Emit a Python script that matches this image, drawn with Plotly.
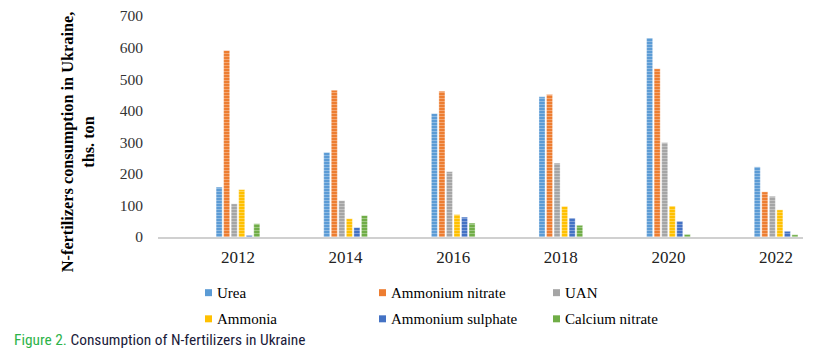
import plotly.graph_objects as go

years = ["2012", "2014", "2016", "2018", "2020", "2022"]
series_names = ["Urea", "Ammonium nitrate", "UAN", "Ammonia", "Ammonium sulphate", "Calcium nitrate"]
urea = [158, 268, 391, 444, 630, 222]
ammonium_nitrate = [591, 465, 462, 451, 533, 143]
uan = [105, 115, 207, 234, 299, 129]
ammonia = [150, 58, 71, 97, 98, 86]
ammonium_sulphate = [5, 30, 63, 60, 50, 18]
calcium_nitrate = [42, 68, 44, 37, 8, 7]
y_ticks = [0, 100, 200, 300, 400, 500, 600, 700]

values = [urea, ammonium_nitrate, uan, ammonia, ammonium_sulphate, calcium_nitrate]
colors = ["#5B9BD5", "#ED7D31", "#A5A5A5", "#FFC000", "#4472C4", "#70AD47"]

# page has an 8px body margin; figure is sized to fit the 814x358 window
OFF = 8
W, H = 814 - OFF, 358 - OFF
L, R, T, B = 158 - OFF, 11, 16 - OFF, 120.5
pw, ph = W - L - R, H - T - B

def px(x):
    return (x - OFF - L) / pw

def py(y):
    return (H - B - (y - OFF)) / ph

fig = go.Figure()
for name, vals, col in zip(series_names, values, colors):
    fig.add_trace(go.Bar(
        x=years, y=vals, name=name,
        marker=dict(color=col,
                    line=dict(color="rgba(255,255,255,0.55)", width=0.6),
                    pattern=dict(shape="-", fillmode="overlay", fgcolor="white",
                                 fgopacity=0.35, size=3, solidity=0.3)),
        showlegend=False,
    ))

serif = "Liberation Serif, Times New Roman, serif"

# manual legend
cols_x = [205, 379, 553]
rows_y = [293.3, 319.5]
ann = []
shapes = []
for i, (name, col) in enumerate(zip(series_names, colors)):
    r, c = divmod(i, 3)
    mx, my = cols_x[c], rows_y[r]
    shapes.append(dict(type="rect", xref="paper", yref="paper",
                       x0=px(mx), x1=px(mx + 7), y0=py(my - 3.5), y1=py(my + 3.5),
                       fillcolor=col, line=dict(width=0)))
    ann.append(dict(text=name, xref="paper", yref="paper", x=px(mx + 10), y=py(my),
                    xanchor="left", yanchor="middle", showarrow=False,
                    font=dict(family=serif, size=15, color="#000000")))

ann.append(dict(text="<b>N-fertilizers consumption in Ukraine,<br>ths. ton</b>",
                xref="paper", yref="paper", x=px(77.5), y=py(143), textangle=-90,
                xanchor="center", yanchor="middle", showarrow=False,
                font=dict(family=serif, size=16.3, color="#000000")))

ann.append(dict(text="<span style='color:#2DB34A'>Figure 2.</span> Consumption of N-fertilizers in Ukraine",
                xref="paper", yref="paper", x=px(12), y=py(340.5),
                xanchor="left", yanchor="middle", showarrow=False,
                font=dict(family="Liberation Sans Narrow, Roboto Condensed, Roboto, sans-serif",
                          size=15.4, color="#1B1B3A")))

fig.update_layout(
    width=W, height=H,
    margin=dict(l=L, r=R, t=T, b=B, pad=0, autoexpand=False),
    paper_bgcolor="white", plot_bgcolor="white",
    barmode="group", bargap=0.58, bargroupgap=0.2,
    annotations=ann, shapes=shapes,
    xaxis=dict(type="category", range=[-0.743, 5.25], showgrid=False, zeroline=False,
               showline=True, linecolor="#D0D0D0", linewidth=2, ticks="",
               ticklabelstandoff=4, automargin=False,
               tickfont=dict(family=serif, size=17, color="#222222")),
    yaxis=dict(range=[0, 700], tickvals=y_ticks, showgrid=False, zeroline=False,
               showline=False, ticks="", ticklabelstandoff=14,
               ticklabeloverflow="allow", automargin=False,
               tickfont=dict(family=serif, size=15.5, color="#333333")),
)

fig.write_html("out.html")
